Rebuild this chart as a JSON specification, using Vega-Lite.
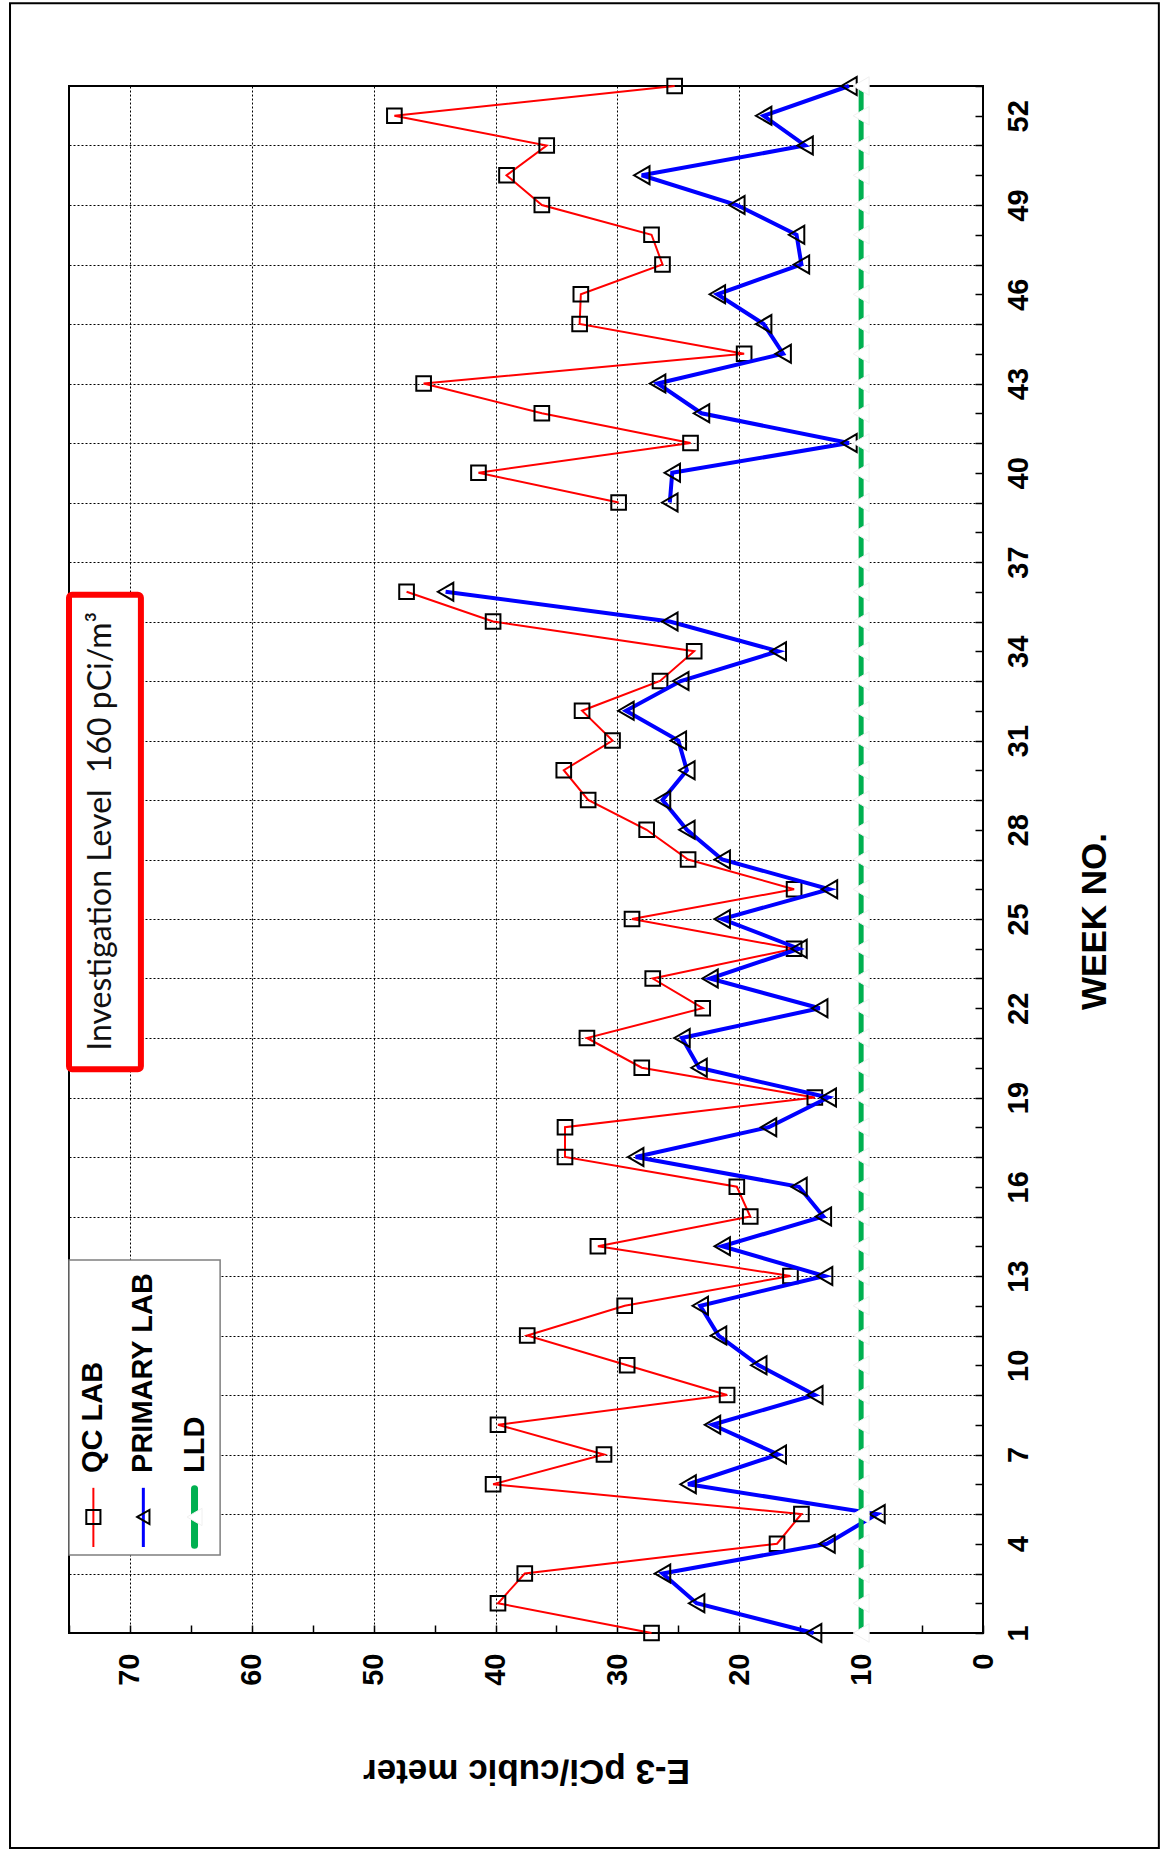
{
  "$schema": "https://vega.github.io/schema/vega-lite/v6.json",
  "width": 914,
  "height": 1547,
  "autosize": {"type": "none"},
  "padding": {"left": 69, "top": 86, "right": 185, "bottom": 220},
  "background": "white",
  "datasets": {
    "qc": [
      {"week": 1, "value": 27.2, "seg": "a"}, {"week": 2, "value": 39.8, "seg": "a"}, {"week": 3, "value": 37.6, "seg": "a"},
      {"week": 4, "value": 16.9, "seg": "a"}, {"week": 5, "value": 14.9, "seg": "a"}, {"week": 6, "value": 40.2, "seg": "a"},
      {"week": 7, "value": 31.1, "seg": "a"}, {"week": 8, "value": 39.8, "seg": "a"}, {"week": 9, "value": 21.0, "seg": "a"},
      {"week": 10, "value": 29.2, "seg": "a"}, {"week": 11, "value": 37.4, "seg": "a"}, {"week": 12, "value": 29.4, "seg": "a"},
      {"week": 13, "value": 15.8, "seg": "a"}, {"week": 14, "value": 31.6, "seg": "a"}, {"week": 15, "value": 19.1, "seg": "a"},
      {"week": 16, "value": 20.2, "seg": "a"}, {"week": 17, "value": 34.3, "seg": "a"}, {"week": 18, "value": 34.3, "seg": "a"},
      {"week": 19, "value": 13.8, "seg": "a"}, {"week": 20, "value": 28.0, "seg": "a"}, {"week": 21, "value": 32.5, "seg": "a"},
      {"week": 22, "value": 23.0, "seg": "a"}, {"week": 23, "value": 27.1, "seg": "a"}, {"week": 24, "value": 15.5, "seg": "a"},
      {"week": 25, "value": 28.8, "seg": "a"}, {"week": 26, "value": 15.5, "seg": "a"}, {"week": 27, "value": 24.2, "seg": "a"},
      {"week": 28, "value": 27.6, "seg": "a"}, {"week": 29, "value": 32.4, "seg": "a"}, {"week": 30, "value": 34.4, "seg": "a"},
      {"week": 31, "value": 30.4, "seg": "a"}, {"week": 32, "value": 32.9, "seg": "a"}, {"week": 33, "value": 26.5, "seg": "a"},
      {"week": 34, "value": 23.7, "seg": "a"}, {"week": 35, "value": 40.2, "seg": "a"}, {"week": 36, "value": 47.3, "seg": "a"},
      {"week": 39, "value": 29.9, "seg": "b"}, {"week": 40, "value": 41.4, "seg": "b"}, {"week": 41, "value": 24.0, "seg": "b"},
      {"week": 42, "value": 36.2, "seg": "b"}, {"week": 43, "value": 45.9, "seg": "b"}, {"week": 44, "value": 19.6, "seg": "b"},
      {"week": 45, "value": 33.1, "seg": "b"}, {"week": 46, "value": 33.0, "seg": "b"}, {"week": 47, "value": 26.3, "seg": "b"},
      {"week": 48, "value": 27.2, "seg": "b"}, {"week": 49, "value": 36.2, "seg": "b"}, {"week": 50, "value": 39.1, "seg": "b"},
      {"week": 51, "value": 35.8, "seg": "b"}, {"week": 52, "value": 48.3, "seg": "b"}, {"week": 53, "value": 25.3, "seg": "b"}
    ],
    "primary": [
      {"week": 1, "value": 13.9, "seg": "a"}, {"week": 2, "value": 23.5, "seg": "a"}, {"week": 3, "value": 26.3, "seg": "a"},
      {"week": 4, "value": 12.8, "seg": "a"}, {"week": 5, "value": 8.7, "seg": "a"}, {"week": 6, "value": 24.2, "seg": "a"},
      {"week": 7, "value": 16.8, "seg": "a"}, {"week": 8, "value": 22.2, "seg": "a"}, {"week": 9, "value": 13.8, "seg": "a"},
      {"week": 10, "value": 18.4, "seg": "a"}, {"week": 11, "value": 21.7, "seg": "a"}, {"week": 12, "value": 23.2, "seg": "a"},
      {"week": 13, "value": 13.0, "seg": "a"}, {"week": 14, "value": 21.4, "seg": "a"}, {"week": 15, "value": 13.1, "seg": "a"},
      {"week": 16, "value": 15.1, "seg": "a"}, {"week": 17, "value": 28.5, "seg": "a"}, {"week": 18, "value": 17.6, "seg": "a"},
      {"week": 19, "value": 12.7, "seg": "a"}, {"week": 20, "value": 23.3, "seg": "a"}, {"week": 21, "value": 24.7, "seg": "a"},
      {"week": 22, "value": 13.4, "seg": "a"}, {"week": 23, "value": 22.4, "seg": "a"}, {"week": 24, "value": 15.1, "seg": "a"},
      {"week": 25, "value": 21.4, "seg": "a"}, {"week": 26, "value": 12.6, "seg": "a"}, {"week": 27, "value": 21.4, "seg": "a"},
      {"week": 28, "value": 24.3, "seg": "a"}, {"week": 29, "value": 26.3, "seg": "a"}, {"week": 30, "value": 24.3, "seg": "a"},
      {"week": 31, "value": 25.0, "seg": "a"}, {"week": 32, "value": 29.3, "seg": "a"}, {"week": 33, "value": 24.8, "seg": "a"},
      {"week": 34, "value": 16.8, "seg": "a"}, {"week": 35, "value": 25.7, "seg": "a"}, {"week": 36, "value": 44.1, "seg": "a"},
      {"week": 39, "value": 25.7, "seg": "b"}, {"week": 40, "value": 25.5, "seg": "b"}, {"week": 41, "value": 11.0, "seg": "b"},
      {"week": 42, "value": 23.1, "seg": "b"}, {"week": 43, "value": 26.7, "seg": "b"}, {"week": 44, "value": 16.4, "seg": "b"},
      {"week": 45, "value": 18.0, "seg": "b"}, {"week": 46, "value": 21.8, "seg": "b"}, {"week": 47, "value": 14.9, "seg": "b"},
      {"week": 48, "value": 15.3, "seg": "b"}, {"week": 49, "value": 20.2, "seg": "b"}, {"week": 50, "value": 28.0, "seg": "b"},
      {"week": 51, "value": 14.6, "seg": "b"}, {"week": 52, "value": 18.0, "seg": "b"}, {"week": 53, "value": 11.0, "seg": "b"}
    ],
    "lld": [
      {"week": 1, "value": 10}, {"week": 2, "value": 10}, {"week": 3, "value": 10}, {"week": 4, "value": 10}, {"week": 5, "value": 10},
      {"week": 6, "value": 10}, {"week": 7, "value": 10}, {"week": 8, "value": 10}, {"week": 9, "value": 10}, {"week": 10, "value": 10},
      {"week": 11, "value": 10}, {"week": 12, "value": 10}, {"week": 13, "value": 10}, {"week": 14, "value": 10}, {"week": 15, "value": 10},
      {"week": 16, "value": 10}, {"week": 17, "value": 10}, {"week": 18, "value": 10}, {"week": 19, "value": 10}, {"week": 20, "value": 10},
      {"week": 21, "value": 10}, {"week": 22, "value": 10}, {"week": 23, "value": 10}, {"week": 24, "value": 10}, {"week": 25, "value": 10},
      {"week": 26, "value": 10}, {"week": 27, "value": 10}, {"week": 28, "value": 10}, {"week": 29, "value": 10}, {"week": 30, "value": 10},
      {"week": 31, "value": 10}, {"week": 32, "value": 10}, {"week": 33, "value": 10}, {"week": 34, "value": 10}, {"week": 35, "value": 10},
      {"week": 36, "value": 10}, {"week": 37, "value": 10}, {"week": 38, "value": 10}, {"week": 39, "value": 10}, {"week": 40, "value": 10},
      {"week": 41, "value": 10}, {"week": 42, "value": 10}, {"week": 43, "value": 10}, {"week": 44, "value": 10}, {"week": 45, "value": 10},
      {"week": 46, "value": 10}, {"week": 47, "value": 10}, {"week": 48, "value": 10}, {"week": 49, "value": 10}, {"week": 50, "value": 10},
      {"week": 51, "value": 10}, {"week": 52, "value": 10}, {"week": 53, "value": 10}
    ],
    "frame": [{"value": 79.84, "value2": -14.43, "week": 55.78, "week2": -6.23}],
    "invBox": [{"value": 75.0, "value2": 69.1, "week": 19.95, "week2": 35.9}],
    "invText": [{"value": 72.4, "week": 27.95, "label": "Investigation Level \u00a0160 pCi/m³"}],
    "legendBox": [{"value": 75.0, "value2": 62.6, "week": 3.62, "week2": 13.54}],
    "legendRule": [
      {"series": "QC LAB", "value": 73.0, "week": 3.89, "week2": 5.88},
      {"series": "PRIMARY LAB", "value": 68.9, "week": 3.89, "week2": 5.88}
    ],
    "legendLLD": [{"series": "LLD", "value": 64.7, "week": 3.95, "week2": 5.85}],
    "legendSym": [
      {"series": "QC LAB", "value": 73.0, "week": 4.9},
      {"series": "PRIMARY LAB", "value": 68.9, "week": 4.9}
    ],
    "legendSymLLD": [{"series": "LLD", "value": 64.7, "week": 4.9}],
    "legendText": [
      {"series": "QC LAB", "value": 73.0, "week": 6.38},
      {"series": "PRIMARY LAB", "value": 68.9, "week": 6.38},
      {"series": "LLD", "value": 64.7, "week": 6.38}
    ]
  },
  "encoding": {
    "x": {
      "field": "value", "type": "quantitative",
      "scale": {"domain": [0, 75], "reverse": true, "nice": false, "zero": false},
      "axis": {
        "title": "E-3 pCi/cubic meter",
        "orient": "bottom",
        "values": [0, 5, 10, 15, 20, 25, 30, 35, 40, 45, 50, 55, 60, 65, 70, 75],
        "grid": true,
        "gridOpacity": {"condition": {"test": "datum.value % 10 === 0", "value": 1}, "value": 0},
        "labelExpr": "datum.value % 10 === 0 && datum.value < 75 ? datum.label : ''",
        "labelAngle": 270, "labelAlign": "right", "labelBaseline": "middle", "labelPadding": 28,
        "titleAngle": 180, "titleAlign": "center", "titleBaseline": "middle", "titleX": 457, "titleY": 137,
        "tickSize": -8
      }
    },
    "y": {
      "field": "week", "type": "quantitative",
      "scale": {"domain": [1, 53], "nice": false, "zero": false},
      "axis": {
        "title": "WEEK NO.",
        "orient": "right",
        "values": [1,2,3,4,5,6,7,8,9,10,11,12,13,14,15,16,17,18,19,20,21,22,23,24,25,26,27,28,29,30,31,32,33,34,35,36,37,38,39,40,41,42,43,44,45,46,47,48,49,50,51,52,53],
        "grid": true,
        "gridOpacity": {"condition": {"test": "datum.value % 2 === 1", "value": 1}, "value": 0},
        "labelExpr": "(datum.value - 1) % 3 === 0 ? datum.label : ''",
        "labelAngle": 270, "labelAlign": "center", "labelBaseline": "top", "labelPadding": 29,
        "titleAngle": 270, "titleAlign": "center", "titleBaseline": "middle", "titleX": 111, "titleY": 835,
        "tickSize": -8
      }
    }
  },
  "layer": [
    {
      "data": {"name": "frame"},
      "mark": {"type": "rect", "fillOpacity": 0, "stroke": "#000", "strokeWidth": 2},
      "encoding": {"x2": {"field": "value2"}, "y2": {"field": "week2"}}
    },
    {
      "data": {"name": "qc"},
      "mark": {"type": "line", "color": "#ff0000", "strokeWidth": 2},
      "encoding": {"detail": {"field": "seg"}, "order": {"field": "week"}}
    },
    {
      "data": {"name": "qc"},
      "mark": {"type": "point", "shape": "square", "filled": false, "stroke": "#000", "strokeWidth": 2, "size": 215, "opacity": 1}
    },
    {
      "data": {"name": "primary"},
      "mark": {"type": "line", "color": "#0000ff", "strokeWidth": 4},
      "encoding": {"detail": {"field": "seg"}, "order": {"field": "week"}}
    },
    {
      "data": {"name": "primary"},
      "mark": {"type": "point", "shape": "triangle-left", "filled": false, "stroke": "#000", "strokeWidth": 2, "size": 320, "opacity": 1}
    },
    {
      "data": {"name": "lld"},
      "mark": {"type": "line", "color": "#00b050", "strokeWidth": 5},
      "encoding": {"order": {"field": "week"}}
    },
    {
      "data": {"name": "lld"},
      "mark": {"type": "point", "shape": "triangle-left", "filled": true, "fill": "#ffffff", "stroke": "#f0f0f0", "strokeWidth": 1, "size": 340, "opacity": 1}
    },
    {
      "data": {"name": "invBox"},
      "mark": {"type": "rect", "fill": "#ffffff", "stroke": "#ff0000", "strokeWidth": 6, "cornerRadius": 3},
      "encoding": {"x2": {"field": "value2"}, "y2": {"field": "week2"}}
    },
    {
      "data": {"name": "invText"},
      "mark": {"type": "text", "angle": 270, "align": "center", "baseline": "middle", "font": "Lato", "fontWeight": 400, "fontSize": 32, "color": "#111111"},
      "encoding": {"text": {"field": "label"}}
    },
    {
      "data": {"name": "legendBox"},
      "mark": {"type": "rect", "fill": "#ffffff", "stroke": "#7f7f7f", "strokeWidth": 1.5},
      "encoding": {"x2": {"field": "value2"}, "y2": {"field": "week2"}}
    },
    {
      "data": {"name": "legendRule"},
      "mark": {"type": "rule"},
      "encoding": {
        "y2": {"field": "week2"},
        "color": {"field": "series", "type": "nominal", "scale": {"domain": ["QC LAB", "PRIMARY LAB"], "range": ["#ff0000", "#0000ff"]}, "legend": null},
        "strokeWidth": {"field": "series", "type": "nominal", "scale": {"domain": ["QC LAB", "PRIMARY LAB"], "range": [2, 3]}, "legend": null}
      }
    },
    {
      "data": {"name": "legendLLD"},
      "mark": {"type": "rule", "color": "#00b050", "strokeWidth": 7, "strokeCap": "round"},
      "encoding": {"y2": {"field": "week2"}}
    },
    {
      "data": {"name": "legendSym"},
      "mark": {"type": "point", "filled": false, "stroke": "#000", "strokeWidth": 2, "size": 200, "opacity": 1},
      "encoding": {
        "shape": {"field": "series", "type": "nominal", "scale": {"domain": ["QC LAB", "PRIMARY LAB"], "range": ["square", "triangle-left"]}, "legend": null}
      }
    },
    {
      "data": {"name": "legendSymLLD"},
      "mark": {"type": "point", "shape": "triangle-left", "filled": true, "fill": "#ffffff", "stroke": "#f0f0f0", "strokeWidth": 1, "size": 300, "opacity": 1}
    },
    {
      "data": {"name": "legendText"},
      "mark": {"type": "text", "angle": 270, "align": "left", "baseline": "middle", "font": "Liberation Sans", "fontWeight": "bold", "fontSize": 29, "color": "#000"},
      "encoding": {"text": {"field": "series"}}
    }
  ],
  "config": {
    "view": {"stroke": "#000", "strokeWidth": 2},
    "axis": {
      "domain": false,
      "labelFont": "Liberation Sans", "labelFontWeight": "bold", "labelFontSize": 29, "labelColor": "#000",
      "titleFont": "Liberation Sans", "titleFontWeight": "bold", "titleFontSize": 35, "titleColor": "#000",
      "gridColor": "#000", "gridDash": [2, 2], "gridWidth": 1,
      "tickColor": "#000", "tickWidth": 1.5,
      "labelFlush": false, "labelOverlap": false, "labelBound": false
    }
  }
}
